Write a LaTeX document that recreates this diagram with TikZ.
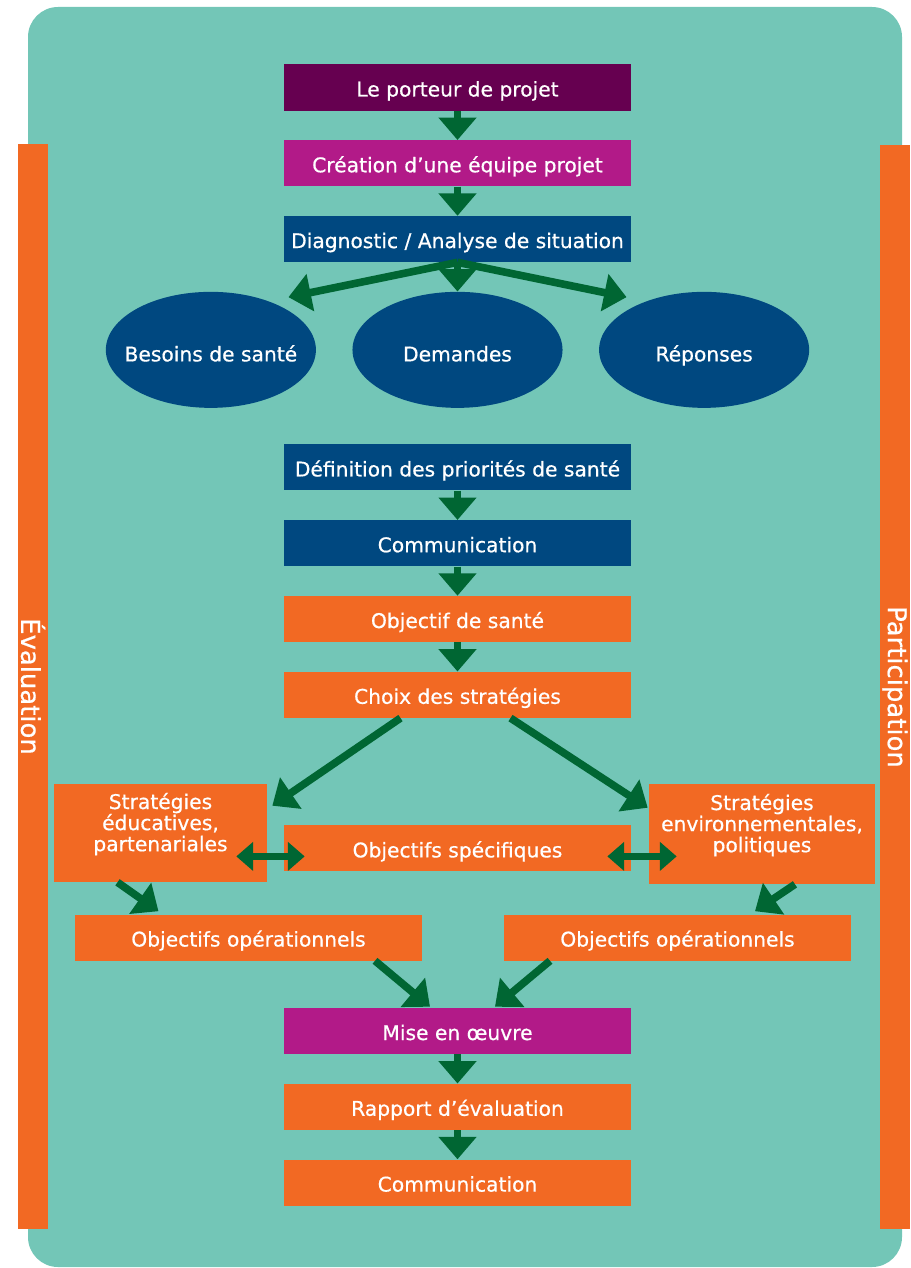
\documentclass[tikz,border=0pt]{standalone}
\usepackage{fontspec}
\setmainfont{DejaVu Sans}[FakeBold=0.6]
\usetikzlibrary{shapes,arrows.meta,positioning}
\definecolor{fond}{RGB}{115,198,183}
\definecolor{orangeP}{RGB}{242,105,35}
\definecolor{prune}{RGB}{102,0,80}
\definecolor{magentaP}{RGB}{178,26,136}
\definecolor{bleuP}{RGB}{0,72,128}
\definecolor{vert}{RGB}{0,102,51}
\def\EduText{Stratégies\\éducatives,\\partenariales}
\def\EnvText{Stratégies\\environnementales,\\politiques}

\begin{document}
\begin{tikzpicture}[x=0.025cm,y=-0.025cm,% one unit = one pixel, y going down
			every node/.style={
				align=center,		% so that "\\" breaks the line
				text=white,
				inner sep=0pt,
				font=\fontsize{14.4}{15}\selectfont
			},
			box/.style={rectangle,minimum width=8.675cm,minimum height=1.15cm,text height=15pt,text depth=2.2pt},
			oval/.style={ellipse,fill=bleuP,minimum width=5.25cm,minimum height=2.9cm,
				inner xsep=-2cm,inner ysep=-1cm,text height=18pt,text depth=1.6pt},	% size from minimum only
			bar/.style={rectangle,fill=orangeP,rotate=-90,minimum width=27.1cm,minimum height=0.75cm,
				font=\fontsize{18.4}{20}\selectfont},
			node distance=0.73cm and 0.9cm,
			every edge/.style={draw=vert,line width=0.19cm},
			arr/.style={-{Triangle[width=0.92cm,length=0.56cm]}},
			dbl/.style={{Triangle[width=0.7cm,length=0.42cm]}-{Triangle[width=0.7cm,length=0.42cm]},line width=0.15cm}
		]
		\useasboundingbox (0,0) rectangle (910,1268);
		\fill[fond,rounded corners=0.75cm] (28,7) rectangle (902,1267);
		% side bars
		\node[bar](S1) at (33,686.5){Évaluation};
		\node[bar](S2) at (895,687){Participation};
		% main column
		\node[box,fill=prune](B1) at (457.5,87.5){Le porteur de projet};
		\node[box,fill=magentaP](B2)[below= of B1]{Création d’une équipe projet};
		\node[box,fill=bleuP](B3)[below= of B2]{Diagnostic / Analyse de situation};
		\node[oval](E2)[below= of B3]{Demandes};
		\node[oval](E1)[left= of E2]{Besoins de santé};
		\node[oval](E3)[right= of E2]{Réponses};
		\node[box,fill=bleuP](B4)[below=0.9cm of E2]{Définition des priorités de santé};
		\node[box,fill=bleuP](B5)[below= of B4]{Communication};
		\node[box,fill=orangeP](B6)[below= of B5]{Objectif de santé};
		\node[box,fill=orangeP](B7)[below= of B6]{Choix des stratégies};
		\node[box,fill=orangeP](B8)[below=2.675cm of B7]{Objectifs spécifiques};
		\node[rectangle,fill=orangeP,minimum width=5.325cm,minimum height=2.45cm,text depth=0.55cm](B9) at (160.5,833){\EduText};
		\node[rectangle,fill=orangeP,minimum width=5.65cm,minimum height=2.5cm,text depth=0.55cm](B10) at (762,834){\EnvText};
		\node[box,fill=orangeP](B11) at (248.5,937.5){Objectifs opérationnels};
		\node[box,fill=orangeP](B12) at (677.5,937.5){Objectifs opérationnels};
		\node[box,fill=magentaP](B13)[below=3.4cm of B8]{Mise en œuvre};
		\node[box,fill=orangeP](B14)[below= of B13]{Rapport d’évaluation};
		\node[box,fill=orangeP](B15)[below= of B14]{Communication};
		\path[arr]
		(B1)edge [] (B2)
		(B2)edge [] (B3)
		(B3.south)edge [] (E2)
		(B3.south)edge [shorten >=0.5cm] (E1.40)
		(B3.south)edge [shorten >=0.5cm] (E3.140)
		(B4)edge [] (B5)
		(B5)edge [] (B6)
		(B6)edge [] (B7)
		([shift={(-57,0)}]B7.south)edge [] ([shift={(5,22)}]B9.north east)
		([shift={(53,0)}]B7.south)edge [] ([shift={(-1,24)}]B10.north west)
		([shift={(-43,0)}]B9.south)edge [] ([shift={(-90,-3)}]B11.north)
		([shift={(33,0)}]B10.south)edge [] ([shift={(77.5,-3)}]B12.north)
		([shift={(126.5,0)}]B11.south)edge [] ([shift={(-27.5,-1)}]B13.north)
		([shift={(-127.5,0)}]B12.south)edge [] ([shift={(37.5,-1)}]B13.north)
		(B13)edge [] (B14)
		(B14)edge [] (B15)
		;
		\path[dbl]
		([shift={(-31,8)}]B9.east |- B8.west)edge [] ([shift={(21,8)}]B8.west)
		([shift={(-24,8)}]B8.east)edge [] ([shift={(28,8)}]B10.west |- B8.east)
		;
	\end{tikzpicture}
\end{document}
